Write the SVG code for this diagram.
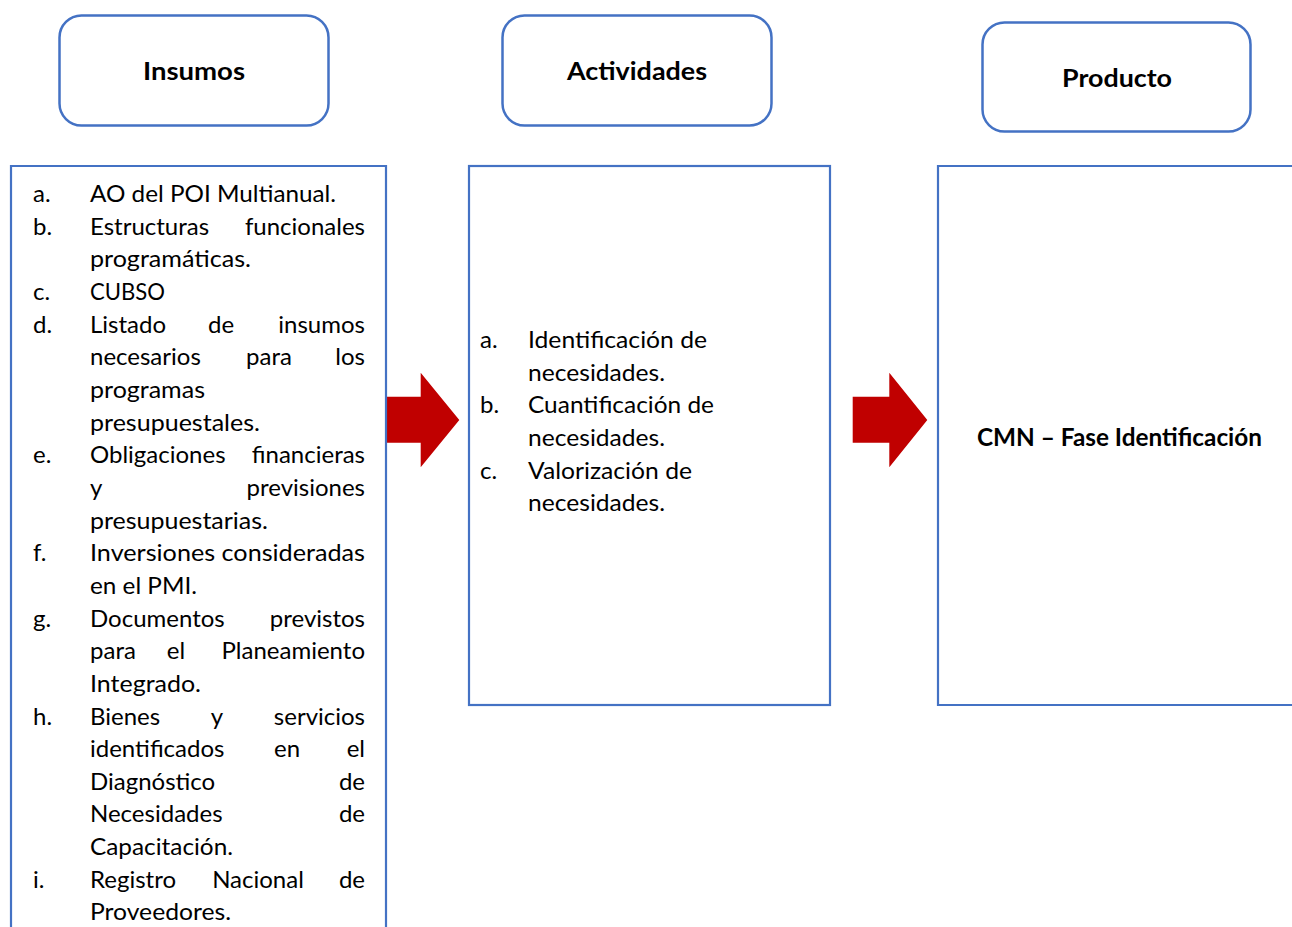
<svg xmlns="http://www.w3.org/2000/svg" width="1292" height="927" viewBox="0 0 1292 927">
<defs>
<style>
.hdr{fill:#fff;stroke:#4472C4;stroke-width:2.5}
.box{fill:#fff;stroke:#4472C4;stroke-width:2.2}
.t{font-family:Lato,"Liberation Sans",sans-serif;font-size:24px;fill:#000}
.b{font-family:Lato,"Liberation Sans",sans-serif;font-size:24px;font-weight:bold;fill:#000}
.e{text-anchor:end}
.m{text-anchor:middle}
.arr{fill:#C00000}
</style>
</defs>
<rect width="1292" height="927" fill="#fff"/>
<g id="hdr-insumos">
<rect class="hdr" x="59.5" y="15.5" width="269" height="110" rx="22"/>
<text class="b" x="143" y="80" textLength="102" lengthAdjust="spacingAndGlyphs">Insumos</text>
</g>
<g id="hdr-actividades">
<rect class="hdr" x="502.5" y="15.5" width="269" height="110" rx="22"/>
<text class="b" x="567" y="80" textLength="140" lengthAdjust="spacingAndGlyphs">Actividades</text>
</g>
<g id="hdr-producto">
<rect class="hdr" x="982.5" y="22.5" width="268" height="109" rx="22"/>
<text class="b" x="1062" y="87" textLength="110" lengthAdjust="spacingAndGlyphs">Producto</text>
</g>
<g id="connectors">
<polygon class="arr" points="385,396.7 420.7,396.7 420.7,372.7 459.3,420 420.7,467.3 420.7,442.7 385,442.7"/>
<polygon class="arr" points="852.7,396.7 889.3,396.7 889.3,372.7 927.3,420 889.3,467.3 889.3,442.7 852.7,442.7"/>
</g>
<g id="insumos">
<path class="box" d="M11,930 V166 H386 V930"/>
<g class="t">
<text x="33" y="202">a.</text><text x="90" y="202" textLength="246" lengthAdjust="spacingAndGlyphs">AO del POI Multianual.</text>
<text x="33" y="235">b.</text><text x="90" y="235">Estructuras</text><text class="e" x="365" y="235">funcionales</text>
<text x="90" y="267" textLength="161" lengthAdjust="spacingAndGlyphs">programáticas.</text>
<text x="33" y="300">c.</text><text x="90" y="300" textLength="75" lengthAdjust="spacingAndGlyphs">CUBSO</text>
<text x="33" y="333">d.</text><text x="90" y="333">Listado</text><text class="m" x="221" y="333">de</text><text class="e" x="365" y="333">insumos</text>
<text x="90" y="365">necesarios</text><text class="m" x="269" y="365">para</text><text class="e" x="365" y="365">los</text>
<text x="90" y="398" textLength="115" lengthAdjust="spacingAndGlyphs">programas</text>
<text x="90" y="431" textLength="170" lengthAdjust="spacingAndGlyphs">presupuestales.</text>
<text x="33" y="463">e.</text><text x="90" y="463">Obligaciones</text><text class="e" x="365" y="463">financieras</text>
<text x="90" y="496">y</text><text class="e" x="365" y="496">previsiones</text>
<text x="90" y="529" textLength="178" lengthAdjust="spacingAndGlyphs">presupuestarias.</text>
<text x="33" y="561">f.</text><text x="90" y="561" textLength="275" lengthAdjust="spacingAndGlyphs">Inversiones consideradas</text>
<text x="90" y="594" textLength="107" lengthAdjust="spacingAndGlyphs">en el PMI.</text>
<text x="33" y="627">g.</text><text x="90" y="627">Documentos</text><text class="e" x="365" y="627">previstos</text>
<text x="90" y="659">para</text><text class="m" x="176" y="659">el</text><text class="e" x="365" y="659">Planeamiento</text>
<text x="90" y="692" textLength="111" lengthAdjust="spacingAndGlyphs">Integrado.</text>
<text x="33" y="725">h.</text><text x="90" y="725">Bienes</text><text class="m" x="217" y="725">y</text><text class="e" x="365" y="725">servicios</text>
<text x="90" y="757">identificados</text><text class="m" x="287" y="757">en</text><text class="e" x="365" y="757">el</text>
<text x="90" y="790">Diagnóstico</text><text class="e" x="365" y="790">de</text>
<text x="90" y="822">Necesidades</text><text class="e" x="365" y="822">de</text>
<text x="90" y="855" textLength="143" lengthAdjust="spacingAndGlyphs">Capacitación.</text>
<text x="33" y="888">i.</text><text x="90" y="888">Registro</text><text class="m" x="258" y="888">Nacional</text><text class="e" x="365" y="888">de</text>
<text x="90" y="920" textLength="141" lengthAdjust="spacingAndGlyphs">Proveedores.</text>
</g>
</g>
<g id="actividades">
<rect class="box" x="469" y="166" width="361" height="539"/>
<g class="t">
<text x="480" y="348">a.</text><text x="528" y="348" textLength="179" lengthAdjust="spacingAndGlyphs">Identificación de</text>
<text x="528" y="381" textLength="137" lengthAdjust="spacingAndGlyphs">necesidades.</text>
<text x="480" y="413">b.</text><text x="528" y="413" textLength="186" lengthAdjust="spacingAndGlyphs">Cuantificación de</text>
<text x="528" y="446" textLength="137" lengthAdjust="spacingAndGlyphs">necesidades.</text>
<text x="480" y="479">c.</text><text x="528" y="479" textLength="164" lengthAdjust="spacingAndGlyphs">Valorización de</text>
<text x="528" y="511" textLength="137" lengthAdjust="spacingAndGlyphs">necesidades.</text>
</g>
</g>
<g id="producto">
<path class="box" d="M1295,166 H938 V705 H1295"/>
<text class="b" x="977" y="446" textLength="285" lengthAdjust="spacingAndGlyphs">CMN – Fase Identificación</text>
</g>
</svg>
